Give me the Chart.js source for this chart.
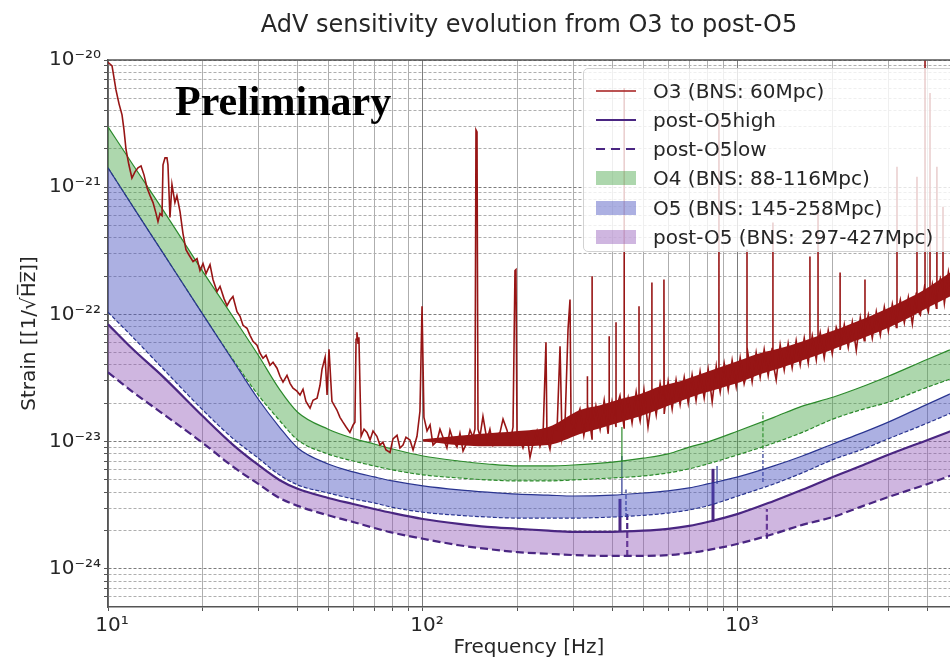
<!DOCTYPE html>
<html>
<head>
<meta charset="utf-8">
<script src="https://cdn.jsdelivr.net/npm/chart.js@4.4.1/dist/chart.umd.min.js"></script>
<style>
  html, body { margin: 0; padding: 0; background: #fff; overflow: hidden; }
  #wrap { position: relative; width: 950px; height: 661px; overflow: hidden; }
  #chart { position: absolute; left: 0; top: 0; }
  .legend {
    position: absolute; left: 583px; top: 68px; width: 380px; height: 184px;
    box-sizing: border-box; background: rgba(255, 255, 255, 0.8);
    border: 1px solid #d2d2d2; border-radius: 5px;
    font: 20px 'DejaVu Sans'; color: #262626;
  }
  .legend .row { position: absolute; left: 0; height: 28px; width: 100%; }
  .legend .handle { position: absolute; left: 12px; width: 40px; }
  .legend .text { position: absolute; left: 69px; top: 0; line-height: 28px; white-space: nowrap; }
  .prelim {
    position: absolute; left: 175px; top: 80px;
    font: bold 42px 'Liberation Serif'; line-height: 42px; color: #000;
  }
</style>
</head>
<body>
<div id="wrap">
  <canvas id="chart" width="950" height="661"></canvas>
  <div class="prelim">Preliminary</div>
  <div class="legend" id="legend"></div>
</div>
<script>
// axis ticks
const xMajor = [10, 100, 1000];
const xMajorLabels = ['10¹', '10²', '10³'];
const yMajor = [1e-24, 1e-23, 1e-22, 1e-21, 1e-20];
const yMajorLabels = ['10⁻²⁴', '10⁻²³', '10⁻²²', '10⁻²¹', '10⁻²⁰'];

// design curves, shared frequency grid [Hz]
const bandFreq = [10, 12, 15, 20, 25, 30, 35, 40, 50, 60, 70, 80, 100, 130, 160, 200, 250, 300,
  400, 500, 600, 700, 800, 1000, 1300, 1600, 2000, 2500, 3000, 4000, 5000];
const o4High = [2.98e-21, 1.5e-21, 6.54e-22, 2.17e-22, 9.47e-23, 4.77e-23, 2.58e-23, 1.7e-23,
  1.25e-23, 1.06e-23, 9.56e-24, 8.74e-24, 7.7e-24, 7.03e-24, 6.66e-24, 6.43e-24, 6.43e-24, 6.54e-24,
  6.9e-24, 7.4e-24, 8.0e-24, 9.05e-24, 9.9e-24, 1.21e-23, 1.55e-23, 1.9e-23, 2.23e-23, 2.72e-23,
  3.26e-23, 4.44e-23, 5.6e-23];
const o4Low = [1.42e-21, 7.03e-22, 3.0e-22, 1.0e-22, 4.36e-23, 2.32e-23, 1.47e-23, 1.03e-23,
  7.97e-24, 7.03e-24, 6.43e-24, 5.98e-24, 5.47e-24, 5.17e-24, 4.99e-24, 4.9e-24, 4.9e-24, 4.99e-24,
  5.17e-24, 5.36e-24, 5.67e-24, 6.1e-24, 6.66e-24, 7.87e-24, 9.73e-24, 1.18e-23, 1.5e-23, 1.8e-23,
  2.04e-23, 2.68e-23, 3.26e-23];
const o5High = [1.42e-21, 7.03e-22, 3.0e-22, 1.0e-22, 4.28e-23, 2.15e-23, 1.3e-23, 8.9e-24,
  6.66e-24, 5.77e-24, 5.27e-24, 4.9e-24, 4.48e-24, 4.17e-24, 4.0e-24, 3.86e-24, 3.79e-24, 3.73e-24,
  3.79e-24, 3.94e-24, 4.09e-24, 4.32e-24, 4.64e-24, 5.27e-24, 6.43e-24, 7.7e-24, 9.56e-24, 1.18e-23,
  1.42e-23, 1.97e-23, 2.53e-23];
const o5Low = [1.04e-22, 6.6e-23, 3.7e-23, 1.77e-23, 1.05e-23, 7.4e-24, 5.47e-24, 4.56e-24,
  3.94e-24, 3.54e-24, 3.29e-24, 3.04e-24, 2.78e-24, 2.63e-24, 2.55e-24, 2.5e-24, 2.5e-24, 2.5e-24,
  2.55e-24, 2.63e-24, 2.74e-24, 2.9e-24, 3.12e-24, 3.73e-24, 4.64e-24, 5.67e-24, 7.2e-24, 8.74e-24,
  1.05e-23, 1.4e-23, 1.77e-23];
const postO5High = [8.35e-23, 5.31e-23, 3.21e-23, 1.58e-23, 9.38e-24, 6.54e-24, 4.99e-24, 4.25e-24,
  3.6e-24, 3.23e-24, 2.95e-24, 2.74e-24, 2.46e-24, 2.25e-24, 2.13e-24, 2.06e-24, 1.99e-24, 1.95e-24,
  1.95e-24, 1.99e-24, 2.06e-24, 2.17e-24, 2.33e-24, 2.7e-24, 3.41e-24, 4.17e-24, 5.27e-24, 6.54e-24,
  7.87e-24, 1.03e-23, 1.27e-23];
const postO5Low = [3.5e-23, 2.45e-23, 1.64e-23, 9.73e-24, 6.31e-24, 4.64e-24, 3.6e-24, 3.12e-24,
  2.63e-24, 2.33e-24, 2.09e-24, 1.92e-24, 1.72e-24, 1.53e-24, 1.43e-24, 1.35e-24, 1.31e-24, 1.28e-24,
  1.26e-24, 1.26e-24, 1.28e-24, 1.33e-24, 1.4e-24, 1.57e-24, 1.88e-24, 2.21e-24, 2.55e-24, 3.12e-24,
  3.66e-24, 4.64e-24, 5.67e-24];

// narrow lines on the design curves (which curve, frequency, base, top)
const lineCurve = ['o4High', 'o4Low', 'o5High', 'o5High', 'o5Low', 'o5Low',
  'postO5High', 'postO5High', 'postO5Low', 'postO5Low'];
const lineFreq = [428, 1200, 428, 858, 441, 1200, 422, 833, 445, 1235];
const lineBase = [6.9e-24, 8.7e-24, 3.8e-24, 4.64e-24, 2.55e-24, 4.8e-24, 1.95e-24, 2.33e-24, 1.26e-24, 1.72e-24];
const lineTop = [1.3e-23, 1.7e-23, 7.7e-24, 6.43e-24, 4.2e-24, 8.42e-24, 3.54e-24, 6.1e-24, 2.85e-24, 2.95e-24];

// O3 measured curve
const o3Freq = [
  // 10-40 Hz
  10, 10.3, 10.6, 10.84, 11.08, 11.24, 11.41, 11.65, 11.91, 12.18,
  12.45, 12.73, 13.01, 13.3, 13.6, 13.9, 14.21, 14.41, 14.62, 14.84,
  14.95, 15.17, 15.39, 15.5, 15.73, 15.96, 16.31, 16.55, 16.93, 17.3,
  17.68, 18.08, 18.62, 19.17, 19.59, 20.03, 20.47, 21.08, 21.54, 22.18,
  22.68, 23.35, 23.87, 24.39, 24.93, 25.67, 26.25, 26.83, 27.63, 28.24,
  28.87, 29.72, 30.38, 31.05, 31.74, 32.68, 33.41, 34.4, 35.16, 35.94,
  37.0, 37.83, 38.67, 39.8, 40.7,
  // 40-180 Hz
  41.6, 42.5, 43.8, 44.75, 46.1, 47.1, 47.8, 48.9, 49.6, 50.3,
  51.4, 52.6, 53.3, 54.5, 55.7, 57.0, 58.6, 60.0, 60.8, 61.3,
  61.7, 62.2, 62.6, 63.6, 65.0, 66.4, 67.9, 69.4, 71.4, 73.0,
  74.6, 76.3, 78.6, 80.3, 82.7, 84.5, 86.4, 88.3, 90.9, 93.0,
  95.7, 97.8, 99.3, 100.7, 103.0, 105.3, 107.6, 110.8, 113.2, 115.7,
  119.1, 121.8, 124.5, 128.2, 131.0, 134.0, 138.0, 141.0, 144.1, 146.2,
  147.3, 148.4, 149.5, 151.7, 155.0, 159.6, 163.1, 166.8, 171.8, 175.6,
  // 180-310 Hz
  179.5, 184.8, 188.9, 193.1, 195.9, 197.3, 198.8, 203.2, 207.7, 213.9,
  218.6, 223.5, 230.1, 235.2, 240.4, 245.7, 247.5, 253.0, 258.7, 266.4,
  272.3, 276.3, 282.4, 288.7, 292.9, 295.1, 301.6, 308.3,
  // 315-4800 Hz
  315, 324, 332, 332, 332, 334, 344, 344, 344.5, 354,
  365, 376, 387, 390, 390, 390, 398, 410, 410, 410,
  422, 435, 435, 435.5, 448, 461, 475, 485, 485, 485,
  489, 503, 518, 533, 533, 533, 534, 550, 566, 582,
  582, 583, 600, 618, 636, 655, 675, 695, 715, 736,
  758, 781, 804, 828, 853, 870, 870, 870, 878, 904,
  931, 958, 987, 1016, 1046, 1068, 1068, 1068, 1077, 1109,
  1142, 1176, 1211, 1247, 1284, 1291, 1291, 1291, 1322, 1361,
  1402, 1443, 1486, 1530, 1576, 1623, 1671, 1692, 1692, 1692,
  1721, 1772, 1795, 1795, 1795, 1824, 1878, 1934, 1992, 2051,
  2108, 2108, 2108, 2112, 2175, 2239, 2306, 2374, 2445, 2517,
  2530, 2530, 2530, 2592, 2669, 2748, 2830, 2914, 3001, 3090,
  3182, 3197, 3197, 3197, 3276, 3373, 3473, 3577, 3683, 3700,
  3700, 3700, 3792, 3905, 3924, 3924, 3924, 4021, 4070, 4070,
  4070, 4140, 4263, 4280, 4280, 4280, 4390, 4475, 4475, 4475,
  4520, 4655, 4793
];
const o3Strain = [
  9.6e-21, 8.98e-21, 5.82e-21, 4.52e-21, 3.7e-21, 2.82e-21, 1.97e-21, 1.5e-21, 1.18e-21, 1.32e-21,
  1.42e-21, 1.47e-21, 1.25e-21, 9.9e-22, 8.58e-22, 7.56e-22, 6.2e-22, 5.36e-22, 6.2e-22, 5.98e-22,
  1.5e-21, 1.7e-21, 1.7e-21, 1.5e-21, 5.77e-22, 1.05e-21, 7.56e-22, 8.58e-22, 6.43e-22, 4.32e-22,
  3.23e-22, 2.93e-22, 2.6e-22, 2.74e-22, 2.21e-22, 2.51e-22, 2.09e-22, 2.46e-22, 1.88e-22, 1.51e-22,
  1.66e-22, 1.33e-22, 1.17e-22, 1.29e-22, 1.38e-22, 1.05e-22, 9.65e-23, 8.2e-23, 7.77e-23, 6.84e-23,
  6.14e-23, 5.72e-23, 4.95e-23, 4.52e-23, 4.77e-23, 3.98e-23, 4.2e-23, 3.77e-23, 3.26e-23, 2.93e-23,
  3.32e-23, 2.87e-23, 2.63e-23, 2.49e-23, 2.32e-23,

  2.58e-23, 2.07e-23, 1.83e-23, 2.11e-23, 2.19e-23, 2.77e-23, 3.7e-23, 4.6e-23, 2.32e-23, 5.31e-23,
  2.07e-23, 1.87e-23, 1.77e-23, 1.55e-23, 1.42e-23, 1.3e-23, 1.18e-23, 1.35e-23, 1.42e-23, 6.37e-23,
  7.22e-23, 5.92e-23, 6.6e-23, 1.1e-23, 1.25e-23, 1.18e-23, 1.03e-23, 1.21e-23, 1.1e-23, 9.38e-24,
  9.9e-24, 8.6e-24, 8.2e-24, 1.05e-23, 1.12e-23, 8.9e-24, 9.38e-24, 1.08e-23, 1.03e-23, 8.6e-24,
  1.1e-23, 1.73e-23, 1.16e-22, 1.55e-23, 1.21e-23, 1.35e-23, 9.38e-24, 1.01e-23, 1.25e-23, 1.08e-23,
  8.9e-24, 1.23e-23, 1.03e-23, 9.05e-24, 1.16e-23, 8.42e-24, 9.9e-24, 1.23e-23, 1.08e-23, 1.25e-23,
  2.82e-21, 2.72e-21, 1.25e-23, 1.1e-23, 1.58e-23, 1.03e-23, 1.25e-23, 9.38e-24, 1.12e-23, 1.18e-23,

  1.5e-23, 1.23e-23, 9.7e-24, 1.3e-23, 2.21e-22, 2.25e-22, 1.21e-23, 1.03e-23, 8.9e-24, 1.12e-23,
  7.5e-24, 9.7e-24, 1.21e-23, 9.2e-24, 1.1e-23, 6.03e-23, 1.08e-23, 8.7e-24, 1.27e-23, 1.23e-23,
  5.6e-23, 1.05e-23, 1.37e-23, 7.63e-23, 1.31e-22, 1.47e-23, 1.18e-23, 1.53e-23,

  1.8e-23, 1.12e-23, 1.6e-23, 3.26e-23, 1.5e-23, 1.95e-23, 1.05e-23, 1.99e-22, 1.2e-23, 1.9e-23,
  1.25e-23, 2.1e-23, 1.15e-23, 1.6e-23, 6.72e-23, 1.5e-23, 2.05e-23, 1.3e-23, 8.65e-23, 1.8e-23,
  2.3e-23, 1.28e-23, 6.03e-21, 1.5e-23, 2.2e-23, 1.4e-23, 2.45e-23, 1.7e-23, 1.16e-22, 1.6e-23,
  1.45e-23, 2.55e-23, 1.3e-23, 2.2e-23, 1.78e-22, 2.0e-23, 2.6e-23, 1.62e-23, 2.85e-23, 1.9e-23,
  1.88e-22, 1.65e-23, 2.95e-23, 1.8e-23, 3.05e-23, 1.95e-23, 3.2e-23, 2.0e-23, 3.35e-23, 2.1e-23,
  3.55e-23, 2.2e-23, 3.7e-23, 2.05e-23, 3.9e-23, 2.6e-23, 3.38e-21, 2.8e-23, 2.45e-23, 4.1e-23,
  2.55e-23, 4.35e-23, 2.7e-23, 4.55e-23, 2.85e-23, 3.5e-23, 3.23e-22, 3.3e-23, 4.8e-23, 2.95e-23,
  5.0e-23, 3.2e-23, 5.3e-23, 3.3e-23, 5.45e-23, 4.5e-23, 5.27e-22, 4.2e-23, 3.05e-23, 5.75e-23,
  3.65e-23, 5.9e-23, 3.8e-23, 6.2e-23, 4.0e-23, 6.5e-23, 4.15e-23, 5.5e-23, 2.85e-22, 5.2e-23,
  6.8e-23, 4.4e-23, 6.0e-23, 6.66e-22, 5.8e-23, 7.2e-23, 4.55e-23, 7.5e-23, 4.9e-23, 7.9e-23,
  6.5e-23, 2.13e-22, 6.2e-23, 5.25e-23, 8.3e-23, 5.5e-23, 8.7e-23, 5.2e-23, 9.4e-23, 6.2e-23,
  8.0e-23, 1.88e-22, 7.5e-23, 9.9e-23, 6.5e-23, 1.05e-22, 6.9e-23, 1.14e-22, 7.4e-23, 1.2e-22,
  7.9e-23, 1.0e-22, 1.45e-21, 9.5e-23, 1.3e-22, 8.6e-23, 1.36e-22, 8.4e-23, 1.48e-22, 1.2e-22,
  1.21e-21, 1.1e-22, 9.9e-23, 1.62e-22, 1.3e-22, 1.0e-20, 1.25e-22, 1.05e-22, 1.4e-22, 5.51e-21,
  1.3e-22, 1.72e-22, 1.12e-22, 1.5e-22, 1.45e-21, 1.45e-22, 1.92e-22, 1.6e-22, 7.03e-22, 1.55e-22,
  1.22e-22, 2.15e-22, 1.35e-22
];
// dense core of the O3 noise
const o3CoreFreq = [100, 150, 200, 250, 315, 365, 422, 489, 566, 655, 758, 877, 1015, 1174, 1359,
  1573, 1821, 2108, 2439, 2824, 3268, 3783, 4378, 4710];
const o3CoreHigh = [1.04e-23, 1.145e-23, 1.21e-23, 1.3e-23, 1.77e-23, 1.93e-23, 2.15e-23, 2.36e-23,
  2.72e-23, 2.98e-23, 3.38e-23, 3.84e-23, 4.36e-23, 4.95e-23, 5.41e-23, 6.03e-23, 6.84e-23, 7.77e-23,
  8.98e-23, 1.05e-22, 1.24e-22, 1.49e-22, 1.88e-22, 2.13e-22];
const o3CoreLow = [1.0e-23, 9.2e-24, 9.2e-24, 9.38e-24, 1.145e-23, 1.27e-23, 1.42e-23, 1.58e-23,
  1.8e-23, 2.07e-23, 2.36e-23, 2.63e-23, 2.93e-23, 3.38e-23, 3.77e-23, 4.28e-23, 4.86e-23, 5.6e-23,
  6.37e-23, 7.35e-23, 8.66e-23, 1.05e-22, 1.26e-22, 1.38e-22];

const O3_RED = '#971515';
const GREEN = '#2c8a2c';
const GREEN_FILL = 'rgba(60, 160, 60, 0.42)';
const BLUE = '#2a3590';
const BLUE_FILL = 'rgba(70, 80, 190, 0.45)';
const PURPLE = '#4a2682';
const PURPLE_FILL = 'rgba(140, 80, 180, 0.42)';
const TEXT = '#262626';

const pts = (xs, ys) => xs.map((x, i) => ({ x, y: ys[i] }));

const isMajor = (v) => Math.abs(Math.log10(v) - Math.round(Math.log10(v))) < 1e-6;

const decadeTicks = (min, max) => {
  const out = [];
  for (let e = Math.floor(Math.log10(min)); e <= Math.ceil(Math.log10(max)); e++) {
    for (let m = 1; m < 10; m++) {
      const v = m * Math.pow(10, e);
      if (v >= min * 0.999 && v <= max * 1.001) out.push({ value: v });
    }
  }
  return out;
};

const majorLabel = (values, labels) => (v) => {
  const i = values.findIndex((m) => Math.abs(m / v - 1) < 1e-6);
  return i >= 0 ? labels[i] : '';
};

const gridColor = (c) => (c.tick && isMajor(c.tick.value) ? '#7c7c7c' : '#aeaeae');

const lineStyle = {
  o4High: { color: GREEN, width: 1.2, dash: [] },
  o4Low: { color: GREEN, width: 1.2, dash: [4, 2] },
  o5High: { color: BLUE, width: 1.2, dash: [] },
  o5Low: { color: BLUE, width: 1.2, dash: [4, 2] },
  postO5High: { color: PURPLE, width: 3, dash: [] },
  postO5Low: { color: PURPLE, width: 2.2, dash: [6, 3] },
};

const narrowLines = lineFreq.map((f, i) => {
  const st = lineStyle[lineCurve[i]];
  return {
    label: 'line',
    data: [{ x: f, y: lineBase[i] }, { x: f, y: lineTop[i] }],
    borderColor: st.color,
    borderWidth: st.width,
    borderDash: st.dash,
    fill: false,
  };
});

const smooth = { cubicInterpolationMode: 'monotone' };

const datasets = [
  { label: 'O3 (BNS: 60Mpc)', data: pts(o3Freq, o3Strain), borderColor: O3_RED, borderWidth: 1.6, fill: false },
  { label: 'core', data: pts(o3CoreFreq, o3CoreHigh), borderWidth: 0, borderColor: 'transparent', fill: false, ...smooth },
  { label: 'core', data: pts(o3CoreFreq, o3CoreLow), borderWidth: 0, borderColor: 'transparent', fill: '-1', backgroundColor: O3_RED, ...smooth },
  { label: 'post-O5high', data: pts(bandFreq, postO5High), borderColor: PURPLE, borderWidth: 2.2, fill: false, ...smooth },
  { label: 'post-O5low', data: pts(bandFreq, postO5Low), borderColor: PURPLE, borderWidth: 2.2, borderDash: [8, 4], fill: '-1', backgroundColor: PURPLE_FILL, ...smooth },
  { label: 'O5 high', data: pts(bandFreq, o5High), borderColor: BLUE, borderWidth: 1.2, fill: false, ...smooth },
  { label: 'O5 low', data: pts(bandFreq, o5Low), borderColor: BLUE, borderWidth: 1.2, borderDash: [4, 2], fill: '-1', backgroundColor: BLUE_FILL, ...smooth },
  { label: 'O4 high', data: pts(bandFreq, o4High), borderColor: GREEN, borderWidth: 1.2, fill: false, ...smooth },
  { label: 'O4 low', data: pts(bandFreq, o4Low), borderColor: GREEN, borderWidth: 1.2, borderDash: [4, 2], fill: '-1', backgroundColor: GREEN_FILL, ...smooth },
  ...narrowLines,
];

// top edge of the frame
const framePlugin = {
  id: 'frame',
  afterDraw: (chart) => {
    const { ctx, chartArea } = chart;
    ctx.save();
    ctx.strokeStyle = '#555';
    ctx.lineWidth = 1.5;
    ctx.beginPath();
    ctx.moveTo(chartArea.left, chartArea.top);
    ctx.lineTo(chartArea.right, chartArea.top);
    ctx.stroke();
    ctx.restore();
  },
};

const tickFont = { family: 'DejaVu Sans', size: 20 };

new Chart(document.getElementById('chart'), {
  type: 'line',
  data: { datasets },
  options: {
    responsive: false,
    animation: false,
    devicePixelRatio: 1,
    layout: { padding: 0 },
    elements: { point: { radius: 0 }, line: { tension: 0 } },
    plugins: {
      legend: { display: false },
      tooltip: { enabled: false },
      title: {
        display: true,
        fullSize: false,
        text: 'AdV sensitivity evolution from O3 to post-O5',
        color: TEXT,
        font: { family: 'DejaVu Sans', size: 24, weight: 'normal' },
        padding: { top: 11, bottom: 20.2 },
      },
    },
    scales: {
      x: {
        type: 'logarithmic',
        min: 10,
        max: 4710,
        afterBuildTicks: (scale) => { scale.ticks = decadeTicks(10, 4710); },
        afterFit: (scale) => { scale.height = 54; },
        ticks: { autoSkip: false, maxRotation: 0, labelOffset: 4, color: TEXT, font: tickFont, padding: 3, callback: majorLabel(xMajor, xMajorLabels) },
        grid: { color: gridColor, tickColor: '#555', tickLength: 4 },
        border: { display: true, color: '#555', width: 1.5 },
        title: { display: true, text: 'Frequency [Hz]', color: TEXT, font: { family: 'DejaVu Sans', size: 20 }, padding: { top: 0, bottom: 1 } },
      },
      y: {
        type: 'logarithmic',
        min: 5.1e-25,
        max: 1e-20,
        afterBuildTicks: (scale) => { scale.ticks = decadeTicks(5.1e-25, 1e-20); },
        afterFit: (scale) => { scale.width = 108; },
        ticks: { autoSkip: false, color: TEXT, font: tickFont, padding: 3, callback: majorLabel(yMajor, yMajorLabels) },
        grid: { color: gridColor, tickColor: '#555', tickLength: 4 },
        border: { display: true, color: '#555', width: 1.5, dash: [3, 2] },
        title: { display: true, text: 'Strain [[1/√H̅z̅]]', color: TEXT, font: { family: 'DejaVu Sans', size: 20 }, padding: { top: 18, bottom: 0 } },
      },
    },
  },
  plugins: [framePlugin],
});

// legend box drawn over the plot, as in the figure
const legendItems = [
  { text: 'O3 (BNS: 60Mpc)', kind: 'line', color: 'rgba(170, 40, 40, 0.8)', width: 1.5 },
  { text: 'post-O5high', kind: 'line', color: PURPLE, width: 2.5 },
  { text: 'post-O5low', kind: 'dash', color: PURPLE, width: 2.5 },
  { text: 'O4 (BNS: 88-116Mpc)', kind: 'patch', color: GREEN_FILL },
  { text: 'O5 (BNS: 145-258Mpc)', kind: 'patch', color: BLUE_FILL },
  { text: 'post-O5 (BNS: 297-427Mpc)', kind: 'patch', color: PURPLE_FILL },
];
const rowTops = [8, 37, 66, 95, 125, 154];
const legend = document.getElementById('legend');
legendItems.forEach((item, i) => {
  const row = document.createElement('div');
  row.className = 'row';
  row.style.top = rowTops[i] + 'px';
  const handle = document.createElement('div');
  handle.className = 'handle';
  if (item.kind === 'patch') {
    handle.style.top = '7px';
    handle.style.height = '14px';
    handle.style.background = item.color;
  } else if (item.kind === 'dash') {
    handle.style.top = (14 - item.width / 2) + 'px';
    handle.style.height = item.width + 'px';
    handle.style.background = `repeating-linear-gradient(90deg, ${item.color} 0 9px, transparent 9px 15px)`;
  } else {
    handle.style.top = (14 - item.width / 2) + 'px';
    handle.style.height = item.width + 'px';
    handle.style.background = item.color;
  }
  const text = document.createElement('div');
  text.className = 'text';
  text.textContent = item.text;
  row.appendChild(handle);
  row.appendChild(text);
  legend.appendChild(row);
});
</script>
</body>
</html>
